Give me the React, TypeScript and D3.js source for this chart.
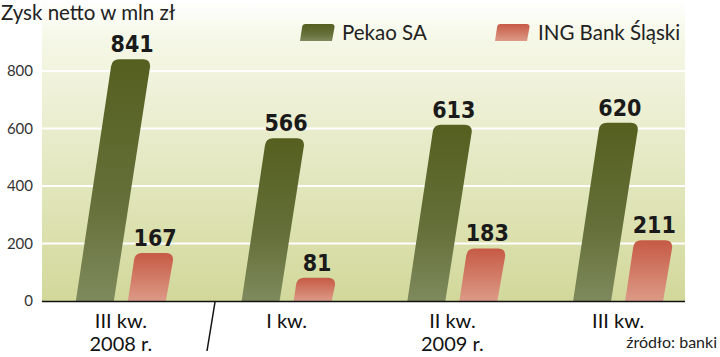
import React from "react";
import * as d3 from "d3";

const categories = ["III kw. 2008 r.", "I kw. 2009 r.", "II kw. 2009 r.", "III kw. 2009 r."];
const catLine1 = ["III kw.", "I kw.", "II kw.", "III kw."];
const catLine2 = ["2008 r.", "", "2009 r.", ""];
const series = ["Pekao SA", "ING Bank Śląski"];
const pekao = [841, 566, 613, 620];
const ing = [167, 81, 183, 211];
const yTicks = [0, 200, 400, 600, 800];

const W = 720, H = 357;
const SLOPE = 0.15;
const FONT = "Lato, 'Open Sans', sans-serif";
const NUMFONT = "'DejaVu Sans Condensed', 'DejaVu Sans', sans-serif";

function barPath(bx: number, bw: number, y0: number, y1: number, r: number) {
  const h = y0 - y1;
  const s = SLOPE * h;
  const L0 = bx - bw / 2, R0 = bx + bw / 2;
  const L1 = L0 + s, R1 = R0 + s;
  const rr = Math.min(r, h / 2);
  const dx = SLOPE * rr;
  return `M${L0},${y0} L${L1 - dx},${y1 + rr} Q${L1},${y1} ${L1 + rr},${y1} L${R1 - rr},${y1} Q${R1},${y1} ${R1},${y1 + rr} L${R0},${y0} Z`;
}

export default function App() {
  const x0 = d3.scaleBand<string>().domain(categories).range([38, 701]).paddingInner(0);
  const x1 = d3.scaleBand<string>().domain(series).range([-45, 45]).paddingInner(0.27);
  const y = d3.scaleLinear().domain([0, 800]).range([301, 71]);
  const values = [pekao, ing];
  const fills = ["url(#gPekao)", "url(#gIng)"];
  const plotL = 42, plotR = 685;

  return (
    <svg width={W} height={H} style={{ position: "absolute", left: 0, top: 0, background: "#fff" }}>
      <defs>
        <linearGradient id="bg" x1="0" y1="0" x2="0" y2="1">
          <stop offset="0" stopColor="#ffffff" />
          <stop offset="0.12" stopColor="#f6f8e8" />
          <stop offset="1" stopColor="#d2d89a" />
        </linearGradient>
        <linearGradient id="gPekao" x1="0" y1="0" x2="0" y2="1">
          <stop offset="0" stopColor="#555f1f" />
          <stop offset="0.6" stopColor="#65703a" />
          <stop offset="1" stopColor="#7e8a5c" />
        </linearGradient>
        <linearGradient id="gIng" x1="0" y1="0" x2="0" y2="1">
          <stop offset="0" stopColor="#c65a45" />
          <stop offset="1" stopColor="#dc9a86" />
        </linearGradient>
      </defs>
      <rect x={plotL} y={0} width={plotR - plotL} height={y(0) - 0} fill="url(#bg)" />
      {yTicks.filter((t) => t > 0).map((t) => (
        <line key={t} x1={plotL} x2={plotR} y1={y(t)} y2={y(t)} stroke="#ffffff" strokeWidth={2} />
      ))}
      {yTicks.map((t) => (
        <text key={"t" + t} x={33} y={y(t)} dy="0.35em" textAnchor="end" fontFamily={FONT} fontSize={15} fill="#333">
          {t}
        </text>
      ))}
      {categories.map((c, i) =>
        series.map((s, j) => {
          const v = values[j][i];
          const bx = (x0(c) as number) + x0.bandwidth() / 2 + (x1(s) as number) + x1.bandwidth() / 2;
          const bw = x1.bandwidth();
          const yT = y(v);
          const h = y(0) - yT;
          return (
            <g key={c + s}>
              <path d={barPath(bx, bw, y(0), yT, 7)} fill={fills[j]} />
              <text x={bx + SLOPE * h + 1} y={yT - 7} textAnchor="middle" fontFamily={NUMFONT} fontWeight="bold" fontSize={23} fill="#1a1a1a">
                {v}
              </text>
            </g>
          );
        })
      )}
      <line x1={plotL} x2={plotR} y1={y(0) + 0.5} y2={y(0) + 0.5} stroke="#111" strokeWidth={1.5} />
      <line x1={215} y1={302} x2={207} y2={351} stroke="#111" strokeWidth={1.5} />
      {categories.map((c, i) => {
        const cx = (x0(c) as number) + x0.bandwidth() / 2;
        return (
          <g key={"c" + c}>
            <text x={cx} y={328} textAnchor="middle" fontFamily={FONT} fontSize={20} fill="#111">{catLine1[i]}</text>
            {catLine2[i] && (
              <text x={cx} y={351} textAnchor="middle" fontFamily={FONT} fontSize={20} fill="#111">{catLine2[i]}</text>
            )}
          </g>
        );
      })}
      <text x={1} y={20} fontFamily={FONT} fontSize={20.5} fill="#222">Zysk netto w mln zł</text>
      <path d={barPath(316, 32, 41, 24, 3)} fill="url(#gPekao)" />
      <text x={342} y={40} fontFamily={FONT} fontSize={20.5} fill="#222">Pekao SA</text>
      <path d={barPath(511, 32, 41, 24, 3)} fill="url(#gIng)" />
      <text x={538} y={40} fontFamily={FONT} fontSize={20.5} fill="#222">ING Bank Śląski</text>
      <text x={717} y={348} textAnchor="end" fontFamily={FONT} fontSize={16} fill="#222">źródło: banki</text>
    </svg>
  );
}
